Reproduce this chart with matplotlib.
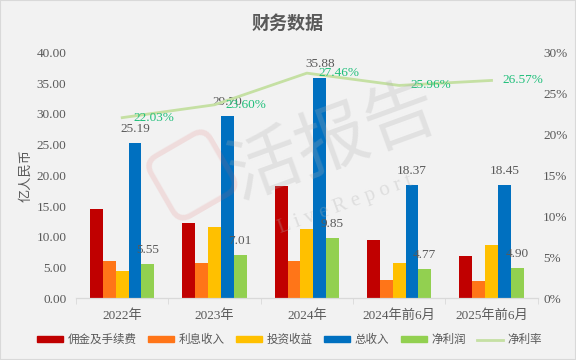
import numpy as np
import matplotlib.pyplot as plt
from matplotlib.lines import Line2D
from matplotlib.patches import Patch

plt.rcParams['font.family'] = ['Liberation Serif', 'Noto Sans CJK SC', 'DejaVu Sans']

# 数据
categories = ["2022年", "2023年", "2024年", "2024年前6月", "2025年前6月"]
commission = [14.5, 12.25, 18.3, 9.43, 6.9]
interest = [6.07, 5.75, 6.07, 2.98, 2.8]
investment = [4.45, 11.6, 11.3, 5.75, 8.67]
total_rev = [25.19, 29.70, 35.88, 18.37, 18.45]
net_profit = [5.55, 7.01, 9.85, 4.77, 4.90]
net_margin = [22.03, 23.60, 27.46, 25.96, 26.57]

series_names = ["佣金及手续费", "利息收入", "投资收益", "总收入", "净利润"]
colors = ["#c00000", "#ff7518", "#ffc000", "#0070c0", "#92d050"]
line_color = "#c5e0a3"
bg = "#f2f2f2"
txt = "#595959"

fig = plt.figure(figsize=(5.76, 3.6), dpi=100, facecolor=bg)
ax = fig.add_axes([0.132, 0.1714, 0.8015, 0.6833], facecolor=bg)
ax2 = ax.twinx()

x = np.arange(len(categories))
w = 0.139
all_series = [commission, interest, investment, total_rev, net_profit]
for i, (vals, c) in enumerate(zip(all_series, colors)):
    ax.bar(x + (i - 2) * w, vals, width=w, color=c, zorder=2)

# 数值标签：总收入、净利润
for xi, v in zip(x, total_rev):
    ax.annotate(f"{v:.2f}", (xi + w, v), xytext=(0, 10), textcoords="offset points",
                ha="center", va="center", fontsize=9.5, color=txt)
for xi, v in zip(x, net_profit):
    ax.annotate(f"{v:.2f}", (xi + 2 * w, v), xytext=(0, 10), textcoords="offset points",
                ha="center", va="center", fontsize=9.5, color=txt)

ax.set_xlim(-0.5, len(categories) - 0.5)
ax.set_ylim(0, 40)
ax.set_yticks(np.arange(0, 41, 5))
ax.set_yticklabels([f"{t:.2f}" for t in np.arange(0, 41, 5)])
ax.set_xticks(x)
ax.set_xticklabels(categories)
ax.set_xticks(np.arange(-0.5, len(categories), 1), minor=True)
ax.tick_params(axis="x", which="major", length=0, pad=8, labelsize=9.5, labelcolor=txt)
ax.tick_params(axis="x", which="minor", length=4, color="#d9d9d9", direction="out")
ax.tick_params(axis="y", length=0, labelsize=9.5, labelcolor=txt, pad=7)
ax.set_ylabel("亿人民币", fontsize=9.5, color=txt, labelpad=3)

# 净利率折线
ax2.plot(x, net_margin, color=line_color, lw=2, zorder=3)
for xi, v in zip(x, net_margin):
    ax2.annotate(f"{v:.2f}%", (xi, v), xytext=(8, 0), textcoords="offset points",
                 ha="left", va="center", fontsize=9.5, color="#1fbf7a")
ax2.set_ylim(0, 30)
ax2.set_yticks(np.arange(0, 31, 5))
ax2.set_yticklabels([f"{t}%" for t in range(0, 31, 5)])
ax2.tick_params(axis="y", length=0, labelsize=9.5, labelcolor=txt, pad=4)

for a in (ax, ax2):
    for s in ["top", "right", "left"]:
        a.spines[s].set_visible(False)
    a.spines["bottom"].set_color("#d9d9d9")

# 水印
fig.text(0.58, 0.6, "活报告", fontsize=52, color="#b0b0b0", alpha=0.25,
         rotation=20, ha="center", va="center")
fig.text(0.6, 0.43, "L i v e R e p o r t", fontsize=15, color="#b0b0b0", alpha=0.3,
         rotation=20, ha="center", va="center")
fig.text(0.33, 0.53, "\u25a2", fontsize=70, color="#e06060", alpha=0.15,
         rotation=30, ha="center", va="center", family="DejaVu Sans")

fig.text(0.5, 0.935, "财务数据", fontsize=13, fontweight="bold", color=txt,
         ha="center", va="center", family=["Noto Sans CJK SC"])

handles = [Patch(color=c) for c in colors] + [Line2D([0], [0], color=line_color, lw=2)]
labels = series_names + ["净利率"]
leg = fig.legend(handles, labels, loc="center", bbox_to_anchor=(0.503, 0.055), ncol=6,
                 frameon=False, fontsize=8.3, handlelength=2.25, handleheight=0.5,
                 columnspacing=1.0, handletextpad=0.4, labelcolor=txt)

fig.patches.append(plt.Rectangle((0, 0), 1, 1, transform=fig.transFigure, fill=False,
                                 edgecolor="#d9d9d9", lw=1.5))

fig.savefig("out.png", dpi=100, facecolor=bg)
